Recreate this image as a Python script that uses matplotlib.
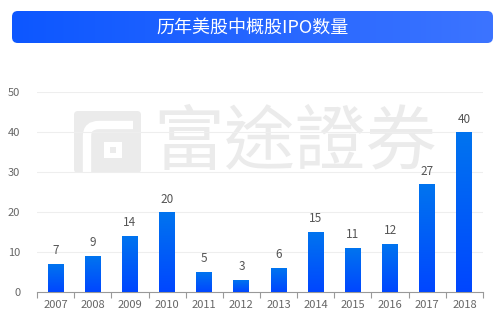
import numpy as np
import matplotlib
matplotlib.use("Agg")
import matplotlib.pyplot as plt
from matplotlib.patches import FancyBboxPatch, Rectangle
from matplotlib.path import Path
from matplotlib.patches import PathPatch
from matplotlib.colors import LinearSegmentedColormap

plt.rcParams['font.family'] = ['Noto Sans CJK SC', 'DejaVu Sans']

title = "历年美股中概股IPO数量"
years = ["2007", "2008", "2009", "2010", "2011", "2012", "2013", "2014", "2015", "2016", "2017", "2018"]
counts = [7, 9, 14, 20, 5, 3, 6, 15, 11, 12, 27, 40]
yticks = [0, 10, 20, 30, 40, 50]
watermark = "富途證券"

W, H = 500, 322
fig = plt.figure(figsize=(W / 100, H / 100), dpi=100)
fig.patch.set_facecolor("white")

# background / overlay axes in pixel coords
bg = fig.add_axes([0, 0, 1, 1], zorder=0)
bg.set_xlim(0, W)
bg.set_ylim(H, 0)
bg.axis("off")

# watermark logo
wm = "#ebebeb"
bg.add_patch(FancyBboxPatch((74, 111), 67, 62, boxstyle="round,pad=0,rounding_size=4",
                            facecolor=wm, edgecolor="none"))
verts = [(87, 173), (87, 136), (87, 125), (99, 125), (133, 125)]
codes = [Path.MOVETO, Path.LINETO, Path.CURVE3, Path.CURVE3, Path.LINETO]
bg.add_patch(PathPatch(Path(verts, codes), facecolor="none", edgecolor="white", lw=6,
                       capstyle="butt"))
bg.add_patch(Rectangle((104, 142), 18, 16, facecolor="white", edgecolor="none"))
bg.add_patch(Rectangle((110, 147), 6, 6, facecolor=wm, edgecolor="none"))
bg.text(295, 143, watermark, fontsize=51, color=wm, ha="center", va="center",
        family=["Noto Sans CJK TC", "Noto Sans CJK SC"])

# title banner
ban = fig.add_axes([12 / W, 1 - 43 / H, 481 / W, 32 / H], zorder=3)
ban.set_xlim(0, 1)
ban.set_ylim(0, 1)
ban.axis("off")
cmap_b = LinearSegmentedColormap.from_list("b", ["#0d57ff", "#3c74ff"])
grad = np.linspace(0, 1, 256).reshape(1, -1)
im = ban.imshow(grad, extent=[0, 1, 0, 1], aspect="auto", cmap=cmap_b)
clip = FancyBboxPatch((0, 0), 1, 1, boxstyle="round,pad=0,rounding_size=0.012",
                      transform=ban.transAxes, facecolor="none", edgecolor="none",
                      mutation_aspect=481 / 32)
ban.add_patch(clip)
im.set_clip_path(clip)
ban.text(0.5, 0.47, title, color="white", fontsize=13, ha="center", va="center")

# main axes
l, r = 37, 483
top, bot = 92.3, 291.7
ax = fig.add_axes([l / W, 1 - bot / H, (r - l) / W, (bot - top) / H], zorder=1)
ax.set_facecolor("none")
x = np.arange(len(years))

cmap_bar = LinearSegmentedColormap.from_list("bar", ["#0046ff", "#0074ef"])
bars = ax.bar(x, counts, width=0.43, color="none", edgecolor="none", zorder=3)
gv = np.linspace(0, 1, 256).reshape(-1, 1)
for b in bars:
    x0, y0 = b.get_x(), b.get_y()
    w, h = b.get_width(), b.get_height()
    bi = ax.imshow(gv, extent=[x0, x0 + w, y0, y0 + h], origin="lower", aspect="auto",
                   cmap=cmap_bar, zorder=3)
    bi.set_clip_path(b)
    ax.text(x0 + w / 2, h + 1.6, str(int(h)), ha="center", va="bottom",
            fontsize=8.5, color="#555555", zorder=4)
ax.set_xlim(-0.5, len(years) - 0.5)
ax.set_ylim(0, 50)

ax.set_yticks(yticks)
ax.set_yticklabels([str(v) for v in yticks])
ax.set_xticks(x)
ax.set_xticklabels(years)
ax.set_xticks(np.arange(-0.5, len(years)), minor=True)
ax.tick_params(axis="x", which="major", length=0, pad=6, labelsize=8, labelcolor="#666666")
ax.tick_params(axis="x", which="minor", length=4, color="#999999", width=0.8)
ax.tick_params(axis="y", length=0, pad=12, labelsize=8, labelcolor="#666666")
for yv in yticks[1:]:
    ax.axhline(yv, color="#eeeeee", lw=0.8, zorder=1)
for s in ["top", "right", "left"]:
    ax.spines[s].set_visible(False)
ax.spines["bottom"].set_color("#999999")
ax.spines["bottom"].set_linewidth(0.8)

fig.savefig("out.png", dpi=100)
